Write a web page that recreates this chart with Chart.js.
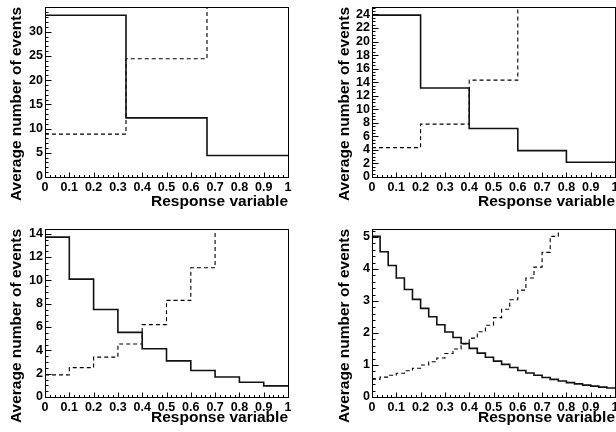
<!DOCTYPE html>
<html>
<head>
<meta charset="utf-8">
<script src="https://cdn.jsdelivr.net/npm/chart.js@4.4.0/dist/chart.umd.min.js"></script>
<style>
  html, body { margin: 0; padding: 0; background: #fff; }
  #wrap { position: relative; width: 616px; height: 432px; overflow: hidden; }
  canvas { position: absolute; }
</style>
</head>
<body>
<div id="wrap">
  <canvas id="c1" width="308" height="216" style="left:0;top:0"></canvas>
  <canvas id="c2" width="308" height="216" style="left:308px;top:0"></canvas>
  <canvas id="c3" width="308" height="216" style="left:0;top:216px"></canvas>
  <canvas id="c4" width="308" height="216" style="left:308px;top:216px"></canvas>
</div>
<script>
// bin contents (3, 5, 10 and 30 equal bins over 0..1)
const solid3 = [33.4, 12.2, 4.43];
const dashed3 = [8.86, 24.4, 66.8];
const solid5 = [23.9, 13.15, 7.15, 3.9, 2.17];
const dashed5 = [4.34, 7.8, 14.3, 26.3, 47.8];
const solid10 = [13.7, 10.1, 7.5, 5.54, 4.14, 3.1, 2.27, 1.71, 1.26, 0.95];
const dashed10 = [1.9, 2.52, 3.42, 4.54, 6.2, 8.28, 11.08, 15.0, 20.2, 27.4];
const solid30 = [5.02, 4.54, 4.11, 3.72, 3.36, 3.05, 2.77, 2.51, 2.26, 2.03,
  1.86, 1.67, 1.52, 1.37, 1.24, 1.12, 1.02, 0.92, 0.83, 0.75,
  0.68, 0.61, 0.55, 0.50, 0.45, 0.41, 0.37, 0.34, 0.31, 0.28];
const dashed30 = [0.56, 0.62, 0.68, 0.74, 0.82, 0.90, 1.00, 1.10, 1.22, 1.36,
  1.50, 1.66, 1.84, 2.04, 2.24, 2.48, 2.74, 3.04, 3.34, 3.72,
  4.06, 4.52, 5.02, 5.54, 6.10, 6.72, 7.44, 8.22, 9.08, 10.04];

// tick labels
const xTicks = [0, 0.1, 0.2, 0.3, 0.4, 0.5, 0.6, 0.7, 0.8, 0.9, 1];
const yTicks1 = [0, 5, 10, 15, 20, 25, 30];
const yTicks2 = [0, 2, 4, 6, 8, 10, 12, 14, 16, 18, 20, 22, 24];
const yTicks3 = [0, 2, 4, 6, 8, 10, 12, 14];
const yTicks4 = [0, 1, 2, 3, 4, 5];

const xTitle = "Response variable";
const yTitle = "Average number of events";

Chart.defaults.font.family = "'Liberation Sans', Arial, sans-serif";
Chart.defaults.font.weight = "bold";
Chart.defaults.color = "#000";

// turn bin contents into step points at the bin edges
const toSteps = (vals) => {
  const pts = vals.map((v, i) => ({ x: i / vals.length, y: v }));
  pts.push({ x: 1, y: vals[vals.length - 1] });
  return pts;
};

// ROOT-like frame with ticks drawn inside the plot area
const rootFrame = {
  id: "rootFrame",
  afterDatasetsDraw(chart, args, opts) {
    const { ctx, chartArea: a, scales } = chart;
    const xs = scales.x, ys = scales.y;
    const L = Math.round(a.left) + 0.5, B = Math.round(a.bottom) + 0.5;
    ctx.save();
    ctx.strokeStyle = "#000";
    ctx.lineWidth = 1;
    ctx.beginPath();
    const yMajor = opts.yTicks[1] - opts.yTicks[0];
    for (let i = 0; i * opts.yMinor <= ys.max + 1e-9; i++) {
      const v = i * opts.yMinor;
      const isMajor = Math.abs(v / yMajor - Math.round(v / yMajor)) < 1e-6;
      const py = Math.round(ys.getPixelForValue(v)) + 0.5;
      ctx.moveTo(L, py);
      ctx.lineTo(L + (isMajor ? 6 : 3), py);
    }
    for (let i = 0; i <= 50; i++) {
      const v = i * 0.02;
      const isMajor = i % 5 === 0;
      const px = Math.round(xs.getPixelForValue(v)) + 0.5;
      ctx.moveTo(px, B);
      ctx.lineTo(px, B - (isMajor ? 5 : 2.5));
    }
    ctx.stroke();
    ctx.strokeRect(L, Math.round(a.top) + 0.5,
      Math.round(a.right) - Math.round(a.left), Math.round(a.bottom) - Math.round(a.top));
    ctx.restore();
  }
};

const panels = [
  { id: "c1", solid: solid3, dashed: dashed3, yMax: 35.1, yTicks: yTicks1, yMinor: 1,
    pad: { left: 0, top: 7, right: 20, bottom: 0 }, yWidth: 45, xHeight: 39, yTitlePad: 7 },
  { id: "c2", solid: solid5, dashed: dashed5, yMax: 25.1, yTicks: yTicks2, yMinor: 0.5,
    pad: { left: 0, top: 7, right: 1, bottom: 0 }, yWidth: 64, xHeight: 39, yTitlePad: 27 },
  { id: "c3", solid: solid10, dashed: dashed10, yMax: 14.4, yTicks: yTicks3, yMinor: 0.5,
    pad: { left: 0, top: 13, right: 20, bottom: 0 }, yWidth: 45, xHeight: 35, yTitlePad: 7 },
  { id: "c4", solid: solid30, dashed: dashed30, yMax: 5.25, yTicks: yTicks4, yMinor: 0.2,
    pad: { left: 0, top: 13, right: 1, bottom: 0 }, yWidth: 64, xHeight: 35, yTitlePad: 27 }
];

panels.forEach((p) => {
  new Chart(document.getElementById(p.id), {
    type: "line",
    data: {
      datasets: [
        {
          data: toSteps(p.solid),
          stepped: true,
          borderColor: "#111",
          borderWidth: 1.6,
          pointRadius: 0,
          clip: 0
        },
        {
          data: toSteps(p.dashed),
          stepped: true,
          borderColor: "#000",
          borderWidth: 1.1,
          borderDash: [4, 3],
          pointRadius: 0,
          clip: 0
        }
      ]
    },
    options: {
      responsive: false,
      animation: false,
      devicePixelRatio: 1,
      layout: { padding: p.pad },
      plugins: {
        legend: { display: false },
        tooltip: { enabled: false },
        rootFrame: { yTicks: p.yTicks, yMinor: p.yMinor }
      },
      scales: {
        x: {
          type: "linear",
          min: 0,
          max: 1,
          grid: { display: false, drawTicks: false },
          border: { display: false },
          afterBuildTicks: (s) => { s.ticks = xTicks.map((v) => ({ value: v })); },
          afterFit: (s) => {
            s.height = p.xHeight;
            s.paddingLeft = 0; s.paddingRight = 0;
          },
          ticks: {
            autoSkip: false,
            maxRotation: 0,
            padding: 3,
            font: { size: 12.5, weight: "bold" },
            callback: (v) => String(+v.toFixed(2))
          },
          title: {
            display: true,
            text: xTitle,
            align: "end",
            font: { size: 15.5, weight: "bold" },
            padding: { top: 0, bottom: 5 }
          }
        },
        y: {
          type: "linear",
          min: 0,
          max: p.yMax,
          grid: { display: false, drawTicks: false },
          border: { display: false },
          afterBuildTicks: (s) => { s.ticks = p.yTicks.map((v) => ({ value: v })); },
          afterFit: (s) => {
            s.width = p.yWidth;
            s.paddingTop = 0; s.paddingBottom = 0;
          },
          ticks: {
            autoSkip: false,
            padding: 2,
            font: { size: 12.5, weight: "bold" },
            callback: (v) => String(v)
          },
          title: {
            display: true,
            text: yTitle,
            align: "end",
            font: { size: 15.5, weight: "bold" },
            padding: { top: p.yTitlePad, bottom: 0 }
          }
        }
      }
    },
    plugins: [rootFrame]
  });
});
</script>
</body>
</html>
